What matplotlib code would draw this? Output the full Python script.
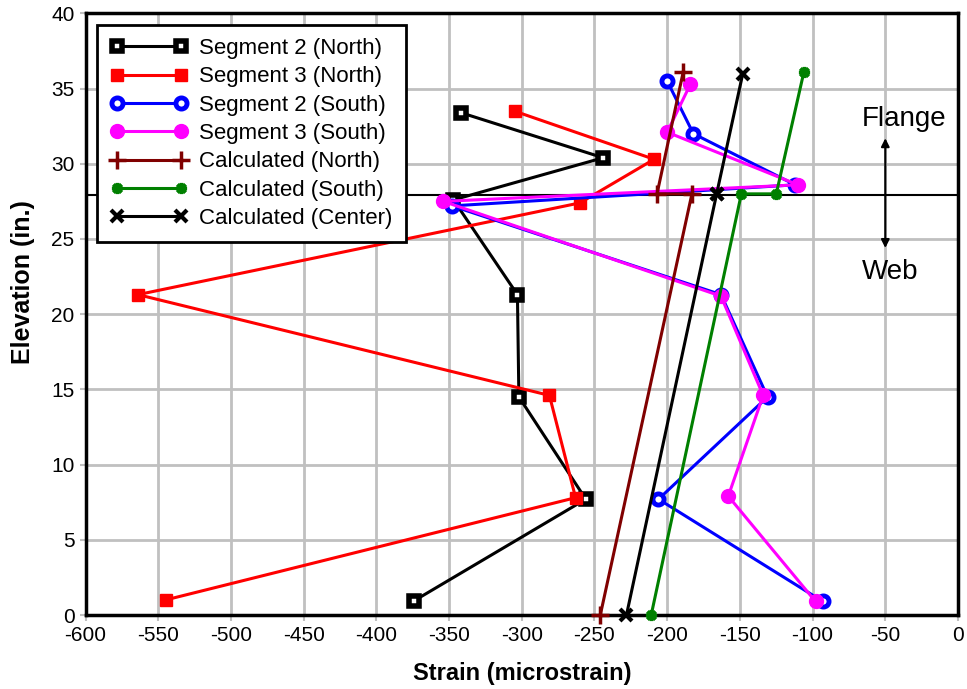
import matplotlib
matplotlib.use("Agg")
import matplotlib.pyplot as plt

plt.rcParams['font.family'] = ['Liberation Sans', 'DejaVu Sans']
plt.rcParams['axes.unicode_minus'] = False

# Strain readings (microstrain) vs elevation (in.)
seg2_north_x = [-342, -244, -347, -303, -302, -256, -374]
seg2_north_y = [33.4, 30.4, 27.6, 21.3, 14.5, 7.7, 0.95]

seg3_north_x = [-305, -209, -260, -564, -281, -263, -545]
seg3_north_y = [33.5, 30.3, 27.4, 21.3, 14.6, 7.8, 1.0]

seg2_south_x = [-200, -182, -112, -348, -163, -131, -206, -93]
seg2_south_y = [35.5, 32.0, 28.6, 27.2, 21.3, 14.5, 7.7, 0.9]

seg3_south_x = [-184, -200, -110, -354, -163, -134, -158, -98]
seg3_south_y = [35.3, 32.1, 28.6, 27.5, 21.2, 14.6, 7.9, 0.9]

calc_north_x = [-246, -183, -207, -189]
calc_north_y = [0.0, 28.0, 28.0, 36.1]

calc_south_x = [-211, -149, -125, -106]
calc_south_y = [0.0, 28.0, 28.0, 36.1]

calc_center_x = [-228, -166, -166, -148]
calc_center_y = [0.0, 28.0, 28.0, 36.0]

flange_web_boundary = 27.9

x_ticks = list(range(-600, 1, 50))
y_ticks = list(range(0, 41, 5))

fig = plt.figure(figsize=(9.67, 6.89), dpi=100)
ax = fig.add_axes([0.0885, 0.1074, 0.9022, 0.8732])

ax.set_xlim(-600, 0)
ax.set_ylim(0, 40)
ax.set_xticks(x_ticks)
ax.set_yticks(y_ticks)
ax.grid(True, color='#c0c0c0', linewidth=2, zorder=0)
ax.set_axisbelow(True)
ax.tick_params(axis='both', labelsize=15, color='#c0c0c0', length=4, width=1.5, pad=4)
for s in ax.spines.values():
    s.set_linewidth(2.5)
    s.set_color('black')

lw = 2.2
ax.plot(seg2_north_x, seg2_north_y, color='black', lw=lw, marker='s', ms=7.5,
        mfc='white', mec='black', mew=4, label='Segment 2 (North)', clip_on=False, zorder=3)
ax.plot(seg3_north_x, seg3_north_y, color='red', lw=lw, marker='s', ms=9,
        mfc='red', mec='red', label='Segment 3 (North)', clip_on=False, zorder=3)
ax.plot(seg2_south_x, seg2_south_y, color='blue', lw=lw, marker='o', ms=8,
        mfc='white', mec='blue', mew=3.5, label='Segment 2 (South)', clip_on=False, zorder=3)
ax.plot(seg3_south_x, seg3_south_y, color='magenta', lw=lw, marker='o', ms=10,
        mfc='magenta', mec='magenta', label='Segment 3 (South)', clip_on=False, zorder=3)
ax.plot(calc_north_x, calc_north_y, color='#800000', lw=lw, marker='+', ms=13,
        mew=2.5, label='Calculated (North)', clip_on=False, zorder=3)
ax.plot(calc_south_x, calc_south_y, color='green', lw=lw, marker=(8, 2, 0), ms=8,
        mew=2.5, label='Calculated (South)', clip_on=False, zorder=3)
ax.plot(calc_center_x, calc_center_y, color='black', lw=lw, marker='x', ms=9,
        mew=3, label='Calculated (Center)', clip_on=False, zorder=3)

ax.axhline(flange_web_boundary, color='black', lw=1.5, zorder=2)

ax.annotate('', xy=(-50, 31.7), xytext=(-50, 24.4),
            arrowprops=dict(arrowstyle='<|-|>', color='black', lw=1.5,
                            mutation_scale=12, shrinkA=0, shrinkB=0), zorder=4)
ax.text(-37, 33.0, 'Flange', fontsize=20, ha='center', va='center')
ax.text(-47, 22.8, 'Web', fontsize=20, ha='center', va='center')

ax.set_xlabel('Strain (microstrain)', fontsize=17, fontweight='bold', labelpad=12)
ax.set_ylabel('Elevation (in.)', fontsize=18, fontweight='bold')
ax.yaxis.set_label_coords(-0.058, 0.554)

leg = ax.legend(loc='upper left', bbox_to_anchor=(0.013, 0.981), borderaxespad=0,
                fontsize=16, frameon=True, fancybox=False, edgecolor='black',
                framealpha=1, handlelength=3.5, handletextpad=0.5,
                labelspacing=0.33, borderpad=0.6, numpoints=2)
leg.get_frame().set_linewidth(2)
leg.set_zorder(10)

fig.savefig('out.png', dpi=100)
